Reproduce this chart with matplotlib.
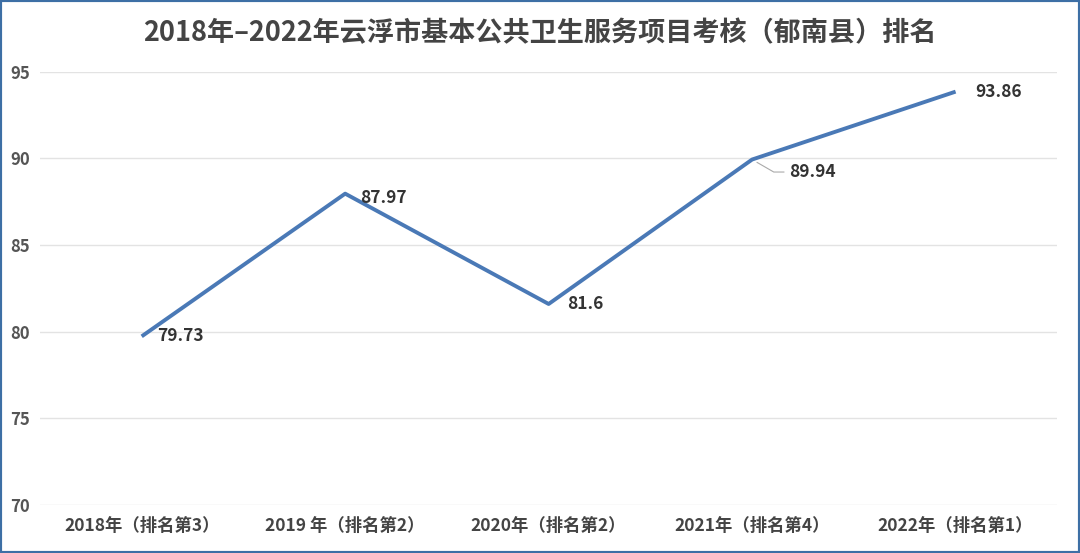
import matplotlib
matplotlib.use("Agg")
from matplotlib import pyplot as plt
from matplotlib.patches import Rectangle

plt.rcParams['font.family'] = ['Noto Sans CJK SC', 'DejaVu Sans']

categories = ["2018年（排名第3）", "2019 年（排名第2）", "2020年（排名第2）",
              "2021年（排名第4）", "2022年（排名第1）"]
scores = [79.73, 87.97, 81.6, 89.94, 93.86]
score_labels = ["79.73", "87.97", "81.6", "89.94", "93.86"]
yticks = [70, 75, 80, 85, 90, 95]

fig = plt.figure(figsize=(10.8, 5.53), dpi=100)
ax = fig.add_axes([0.037, 0.087, 0.942, 0.783])

x = list(range(len(categories)))
ax.plot(x, scores, color="#4a79b6", linewidth=2.8, solid_capstyle="butt", zorder=3)

# data labels (offsets in points from each point)
offsets = [(11, 0), (11, -3), (13, 0), (27, -9), (14, 0)]
for i, (v, t) in enumerate(zip(scores, score_labels)):
    dx, dy = offsets[i]
    if i == 3:
        ax.annotate(t, (i, v), xytext=(dx, dy), textcoords="offset points",
                    ha="left", va="center", fontsize=12.5, fontweight="bold", color="#333333",
                    arrowprops=dict(arrowstyle="-", color="#aaaaaa", lw=0.8,
                                    connectionstyle="angle,angleA=0,angleB=-30,rad=0",
                                    shrinkA=2, shrinkB=4))
    else:
        ax.annotate(t, (i, v), xytext=(dx, dy), textcoords="offset points",
                    ha="left", va="center", fontsize=12.5, fontweight="bold", color="#333333")

ax.set_xlim(-0.5, len(categories) - 0.5)
ax.set_ylim(70, 95)
ax.set_yticks(yticks)
ax.set_xticks(x)
ax.set_xticklabels(categories, fontsize=12.5, fontweight="bold", color="#444444")
for lbl in ax.get_yticklabels():
    lbl.set_fontsize(12)
    lbl.set_fontweight("bold")
    lbl.set_color("#555555")
ax.tick_params(length=0, pad=7)
ax.tick_params(axis="x", pad=9)
ax.grid(axis="y", color="#e3e3e3", linewidth=1)
ax.set_axisbelow(True)
for s in ax.spines.values():
    s.set_visible(False)

fig.text(0.5, 0.941, "2018年–2022年云浮市基本公共卫生服务项目考核（郁南县）排名",
         ha="center", va="center", fontsize=19.5, fontweight="bold", color="#444444")

fig.patches.append(Rectangle((0, 0), 1, 1, transform=fig.transFigure, fill=False,
                             edgecolor="#3d6fa5", linewidth=3, zorder=10))

fig.savefig("out.png", dpi=100, facecolor="white")
